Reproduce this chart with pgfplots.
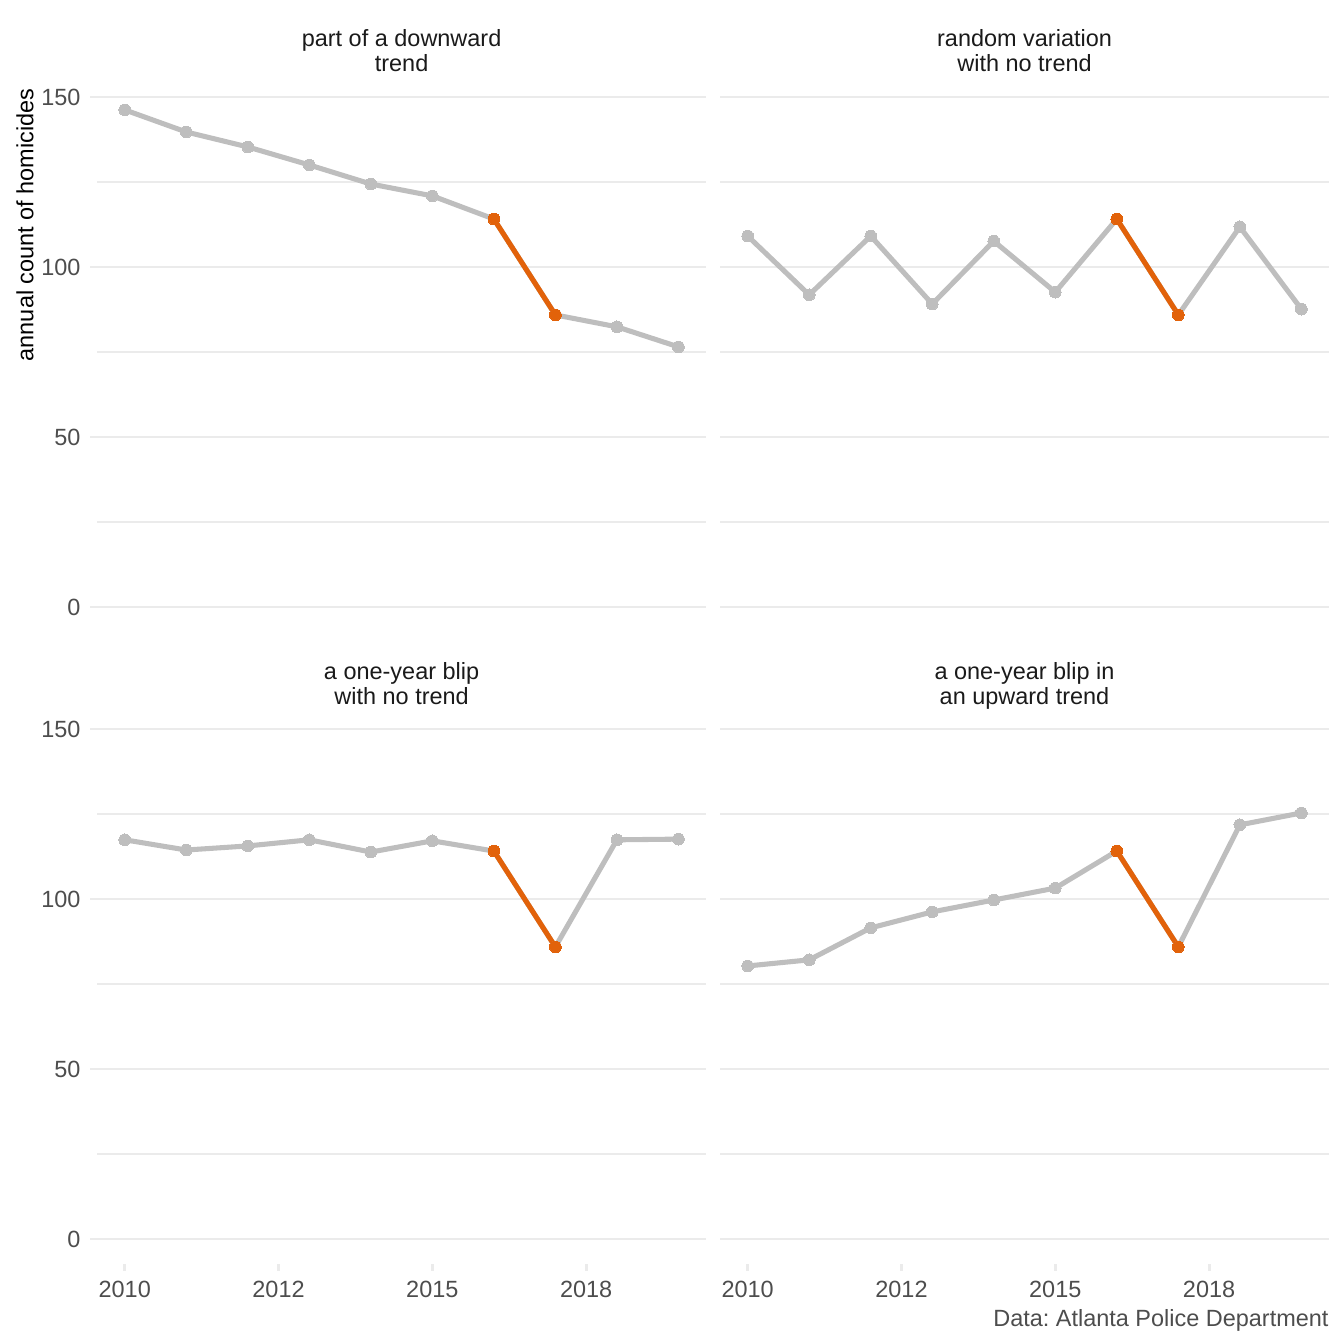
\documentclass[border=0pt]{standalone}
\usepackage{fontspec}
\setmainfont{Liberation Sans}
\usepackage{pgfplots}
\usepackage{pgfplotstable}
\pgfplotsset{compat=1.18}

\definecolor{linegray}{HTML}{BEBEBE}
\definecolor{hiorange}{HTML}{E2620A}
\definecolor{gridgray}{HTML}{EBEBEB}
\definecolor{txtgray}{HTML}{4D4D4D}
\definecolor{striptxt}{HTML}{1A1A1A}

% annual homicide counts for the four scenarios
\pgfplotstableread{
year down random blip upward
2010 146.2 109.1 117.4 80.3
2011 139.7 91.8 114.4 82.1
2012 135.3 109.1 115.6 91.5
2013 130.0 89.1 117.4 96.2
2014 124.4 107.6 113.8 99.7
2015 120.9 92.6 117.1 103.2
2016 114.1 114.1 114.1 114.1
2017 85.9 85.9 85.9 85.9
2018 82.4 111.8 117.4 121.8
2019 76.5 87.6 117.6 125.3
}\homicides

\pgfplotsset{
  panel/.style={
    scale only axis, width=228.4pt, height=205.1pt,
    anchor=south west,
    xmin=2009.55, xmax=2019.45, ymin=-7.35, ymax=153.5,
    axis line style={draw=none},
    ytick={0,50,100,150}, minor ytick={25,75,125},
    ymajorgrids, yminorgrids,
    major grid style={gridgray, line width=1.07pt},
    minor grid style={gridgray, line width=0.53pt},
    xtick={2010,2012.5,2015,2017.5}, xticklabels={2010,2012,2015,2018},
    tick align=outside, major tick length=2.7pt, minor tick length=0pt,
    tick style={gridgray, line width=1.07pt},
    ticklabel style={font=\fontsize{8.8}{10}\selectfont, text=txtgray},
    /pgf/number format/assume math mode=true,
    xtick pos=bottom, ytick pos=left,
    clip=false,
  },
  toprow/.style={xtick=\empty},
  rightcol/.style={yticklabels={}, ytick style={draw=none}},
  graypl/.style={linegray, line width=1.9pt, mark=*, mark size=2.2pt,
    mark options={draw=linegray, fill=linegray, line width=0pt}},
  orangepl/.style={hiorange, line width=1.9pt, mark=*, mark size=2.2pt,
    mark options={draw=hiorange, fill=hiorange, line width=0pt}},
}

\begin{document}
\frenchspacing
\begin{tikzpicture}
\path[use as bounding box] (0,0) rectangle (504pt,504pt);

\begin{axis}[panel, toprow, at={(36.4pt,267pt)}]
\addplot[graypl] table[x=year, y=down] {\homicides};
\addplot[orangepl] coordinates {(2016,114.1) (2017,85.9)};
\end{axis}

\begin{axis}[panel, toprow, rightcol, at={(270pt,267pt)}]
\addplot[graypl] table[x=year, y=random] {\homicides};
\addplot[orangepl] coordinates {(2016,114.1) (2017,85.9)};
\end{axis}

\begin{axis}[panel, at={(36.4pt,30pt)}]
\addplot[graypl] table[x=year, y=blip] {\homicides};
\addplot[orangepl] coordinates {(2016,114.1) (2017,85.9)};
\end{axis}

\begin{axis}[panel, rightcol, at={(270pt,30pt)}]
\addplot[graypl] table[x=year, y=upward] {\homicides};
\addplot[orangepl] coordinates {(2016,114.1) (2017,85.9)};
\end{axis}

% facet strip titles
\begin{scope}[every node/.style={align=center, text=striptxt,
    font=\fontsize{8.8}{9.4}\selectfont}]
\node at (150.6pt,485.1pt) {part of a downward\\trend};
\node at (384.2pt,485.1pt) {random variation\\with no trend};
\node at (150.6pt,247.7pt) {a one-year blip\\with no trend};
\node at (384.2pt,247.7pt) {a one-year blip in\\an u\smash{p}ward trend};
\end{scope}

% y axis title and caption
\node[rotate=90, anchor=east, inner sep=0pt, font=\fontsize{8.8}{10}\selectfont]
  at (9.4pt,471pt) {annual count of homicides};
\node[anchor=east, inner sep=0pt, text=txtgray, font=\fontsize{8.8}{10}\selectfont]
  at (498.4pt,9pt) {Data: Atlanta Police Department};
\end{tikzpicture}
\end{document}
